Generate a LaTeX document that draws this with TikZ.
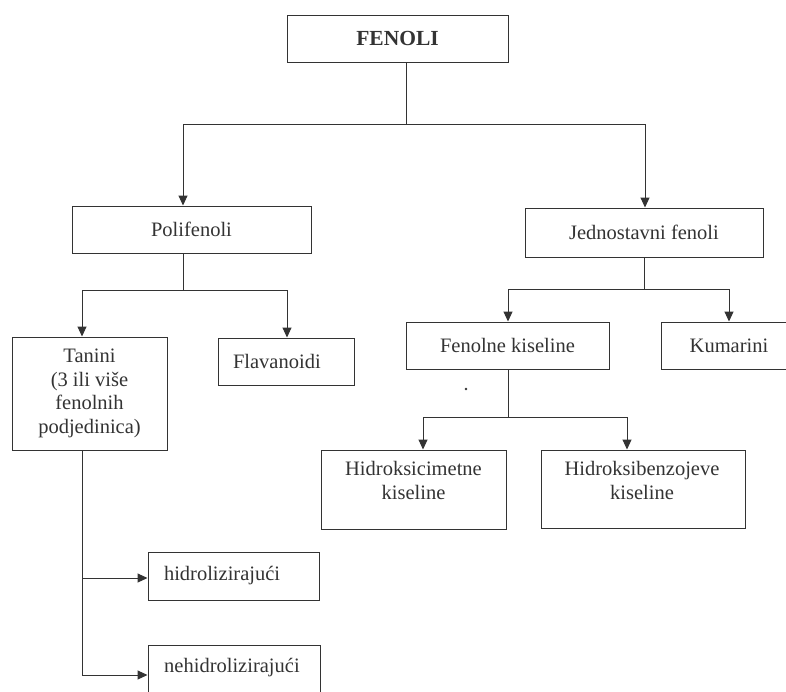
\documentclass[tikz,border=0pt]{standalone}
\usepackage{fontspec}
\setmainfont{Liberation Serif}
\usetikzlibrary{arrows.meta,calc}
\definecolor{ink}{HTML}{333333}
\begin{document}
\begin{tikzpicture}[x=1pt,y=-1pt,
  box/.style={draw=ink, line width=1pt, inner sep=0pt, font=\fontsize{20.5}{23.5}\selectfont, text=ink, align=center},
  lbox/.style={box, align=left},
  conn/.style={draw=ink, line width=1pt},
  arr/.style={conn, -{Triangle[length=10pt,width=9pt]}},
  txt/.style={inner sep=0pt, font=\fontsize{20.5}{24}\selectfont, text=ink, align=center}]
\useasboundingbox (0,0) rectangle (786,691);
\fill[white] (0,0) rectangle (786,691);

% boxes
\node[box, minimum width=221pt, minimum height=47pt] (fen) at (397.5,38.5) {\fontsize{21.5}{24}\selectfont\bfseries FENOLI};
\node[box, minimum width=239pt, minimum height=47pt] (pol) at (191.5,229.5) {Polifenoli};
\node[box, minimum width=238pt, minimum height=49pt] (jed) at (644,232.5) {Jednostavni fenoli};
\node[box, minimum width=155pt, minimum height=113pt] (tan) at (89.5,393.5) {Tanini\\(3 ili više\\fenolnih\\podjedinica)};
\node[lbox, minimum width=136pt, minimum height=47pt, inner xsep=15pt, text width=106pt] (fla) at (286,361.5) {Flavanoidi};
\node[box, minimum width=203pt, minimum height=47pt] (fk) at (507.5,345.5) {Fenolne kiseline};
\node[box, minimum width=136pt, minimum height=47pt] (kum) at (729,345.5) {Kumarini};
\node[box, minimum width=185pt, minimum height=79pt] (hc) at (413.5,489.5) {};
\node[txt, anchor=north] (hct) at (413.5,461) {Hidroksicimetne\\kiseline};
\node[box, minimum width=204pt, minimum height=78pt] (hb) at (643,489) {};
\node[txt, anchor=north] (hbt) at (642,461) {Hidroksibenzojeve\\kiseline};
\node[lbox, minimum width=171pt, minimum height=48pt, inner xsep=16pt, text width=139pt] (hid) at (233.5,576) {hidrolizirajući};
\node[box, minimum width=172pt, minimum height=55pt] (neh) at (234,672.5) {};
\node[txt, anchor=base west] (neht) at (164,672) {nehidrolizirajući};

% FENOLI branches
\coordinate (j1) at (406,124);
\coordinate (pa) at (183,124);
\coordinate (ja) at (645,124);
\draw[conn] (fen.south -| j1) -- (j1);
\draw[arr] (j1) -- (pa) -- (pol.north -| pa);
\draw[arr] (j1) -- (ja) -- (jed.north -| ja);

% Polifenoli branches
\coordinate (j2) at (183,290);
\coordinate (ta) at (82,290);
\coordinate (fa) at (287,290);
\draw[conn] (pol.south -| j2) -- (j2);
\draw[arr] (j2) -- (ta) -- (tan.north -| ta);
\draw[arr] (j2) -- (fa) -- (fla.north -| fa);

% Jednostavni fenoli branches
\coordinate (j3) at (644,289);
\coordinate (fka) at (508,289);
\coordinate (kua) at (729,289);
\draw[conn] (jed.south -| j3) -- (j3);
\draw[arr] (j3) -- (fka) -- (fk.north -| fka);
\draw[arr] (j3) -- (kua) -- (kum.north -| kua);

% Fenolne kiseline branches
\coordinate (j4) at (508,417);
\coordinate (hca) at (423,417);
\coordinate (hba) at (627,417);
\draw[conn] (fk.south -| j4) -- (j4);
\draw[arr] (j4) -- (hca) -- (hc.north -| hca);
\draw[arr] (j4) -- (hba) -- (hb.north -| hba);

% Tanini branches
\coordinate (t1) at (82,578);
\coordinate (t2) at (82,675);
\draw[arr] (tan.south -| t2) -- (t2) -- (neh.west |- t2);
\draw[arr] (t1) -- (hid.west |- t1);

% speck
\fill[ink] (466,389) circle (1.3);
\end{tikzpicture}
\end{document}
